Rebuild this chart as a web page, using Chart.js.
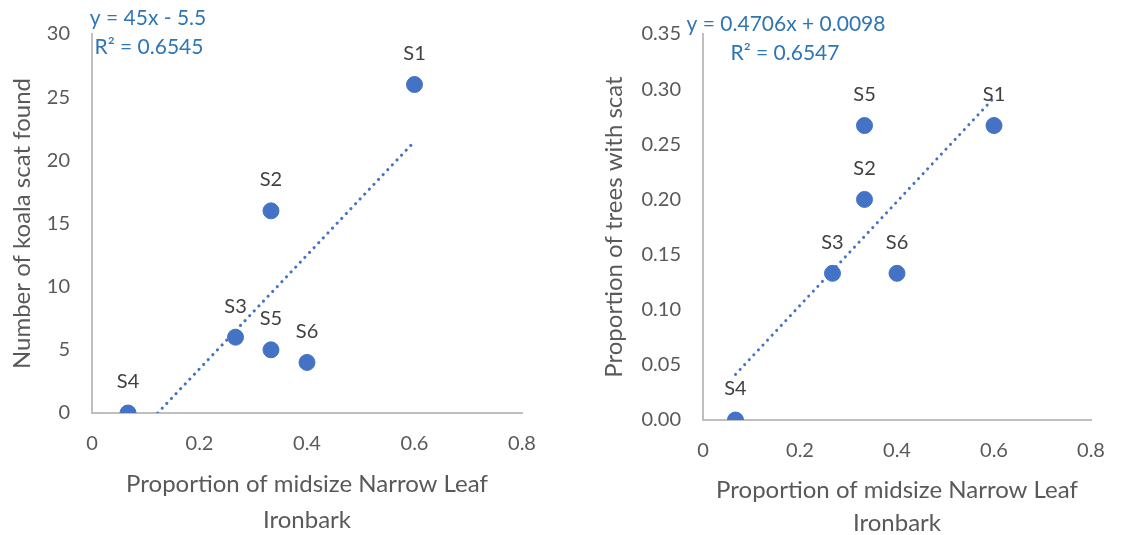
<!DOCTYPE html>
<html>
<head>
<meta charset="utf-8">
<script src="https://cdn.jsdelivr.net/npm/chart.js@4.4.0/dist/chart.umd.min.js"></script>
<style>
  body { margin: 0; background: #fff; }
  canvas { position: absolute; top: 0; }
  #countChart { left: 0; }
  #propChart { left: 570px; }
</style>
</head>
<body>
<canvas id="countChart" width="560" height="535"></canvas>
<canvas id="propChart" width="569" height="535"></canvas>
<script>
// данные по участкам
const sites = ['S1', 'S2', 'S3', 'S4', 'S5', 'S6'];
const ironbark = [0.6, 0.333, 0.267, 0.067, 0.333, 0.4];
const scatCount = [26, 16, 6, 0, 5, 4];
const treesWithScat = [0.267, 0.2, 0.133, 0, 0.267, 0.133];

// линии тренда (как подписано на графике)
const countTrendX = [0.122, 0.6];
const countSlope = 45, countIntercept = -5.5;
const propTrendX = [0.067, 0.6];
const propSlope = 0.4706, propIntercept = 0.0098;

const xTicks = [0, 0.2, 0.4, 0.6, 0.8];
const countTicks = [0, 5, 10, 15, 20, 25, 30];
const propTicks = [0, 0.05, 0.1, 0.15, 0.2, 0.25, 0.3, 0.35];

const BLUE = '#4472C4';
const TEXT = '#595959';
const FONT = 'Lato, "Open Sans", sans-serif';

// подписи точек и уравнение тренда
const labelPlugin = {
    id: 'siteLabels',
    afterDatasetsDraw(chart, args, opts) {
        const ctx = chart.ctx;
        const meta = chart.getDatasetMeta(0);
        ctx.save();
        ctx.font = '20px ' + FONT;
        ctx.fillStyle = '#404040';
        ctx.textAlign = 'center';
        ctx.textBaseline = 'middle';
        meta.data.forEach((pt, i) => {
            ctx.fillText(sites[i], pt.x, pt.y - 31);
        });
        ctx.font = '21px ' + FONT;
        ctx.fillStyle = '#2E75B6';
        opts.lines.forEach(l => ctx.fillText(l.text, l.x, l.y));
        ctx.restore();
    }
};

function makeChart(id, yValues, trendX, slope, intercept, yTicks, yMax, yTitle, decimals, pad, yWidth, xHeight, titlePad, eqLines) {
    new Chart(document.getElementById(id), {
        type: 'scatter',
        data: {
            datasets: [{
                data: ironbark.map((x, i) => ({ x: x, y: yValues[i] })),
                backgroundColor: BLUE,
                borderColor: BLUE,
                pointRadius: 8,
                pointHoverRadius: 8
            }, {
                data: trendX.map(x => ({ x: x, y: slope * x + intercept })),
                showLine: true,
                borderColor: BLUE,
                borderWidth: 3,
                borderDash: [0.1, 6.6],
                borderCapStyle: 'round',
                pointRadius: 0
            }]
        },
        options: {
            responsive: false,
            animation: false,
            layout: { padding: pad },
            plugins: {
                legend: { display: false },
                tooltip: { enabled: false },
                siteLabels: { lines: eqLines }
            },
            scales: {
                x: {
                    type: 'linear',
                    min: 0,
                    max: 0.8,
                    afterBuildTicks: s => { s.ticks = xTicks.map(v => ({ value: v })); },
                    grid: { display: false, drawTicks: false },
                    border: { color: '#BFBFBF', width: 2 },
                    ticks: {
                        padding: 19,
                        color: TEXT,
                        font: { size: 20, family: FONT },
                        callback: v => v === 0 ? '0' : String(Math.round(v * 10) / 10)
                    },
                    title: {
                        display: true,
                        text: ['Proportion of midsize Narrow Leaf', 'Ironbark'],
                        color: TEXT,
                        font: { size: 24, family: FONT, lineHeight: titlePad.lh },
                        padding: { top: 0, bottom: titlePad.bottom }
                    },
                    afterFit: s => { s.height = xHeight; }
                },
                y: {
                    min: 0,
                    max: yMax,
                    afterBuildTicks: s => { s.ticks = yTicks.map(v => ({ value: v })); },
                    grid: { display: false, drawTicks: false },
                    border: { color: '#BFBFBF', width: 2 },
                    ticks: {
                        padding: 22,
                        color: TEXT,
                        font: { size: 20, family: FONT },
                        callback: v => v.toFixed(decimals)
                    },
                    title: {
                        display: true,
                        text: yTitle,
                        color: TEXT,
                        font: { size: 24, family: FONT },
                        padding: 0
                    },
                    afterFit: s => { s.width = yWidth; }
                }
            }
        },
        plugins: [labelPlugin]
    });
}

makeChart('countChart', scatCount, countTrendX, countSlope, countIntercept, countTicks, 30,
    'Number of koala scat found', 0,
    { left: 8, right: 38, top: 27, bottom: 0 }, 84, 122, { lh: 1.48, bottom: -3 },
    [{ text: 'y = 45x - 5.5', x: 148, y: 18 }, { text: 'R² = 0.6545', x: 149, y: 47 }]);

makeChart('propChart', treesWithScat, propTrendX, propSlope, propIntercept, propTicks, 0.35,
    'Proportion of trees with scat', 2,
    { left: 30, right: 48, top: 31, bottom: 0 }, 103, 115, { lh: 1.35, bottom: -4 },
    [{ text: 'y = 0.4706x + 0.0098', x: 216, y: 24 }, { text: 'R² = 0.6547', x: 215, y: 53 }]);
</script>
</body>
</html>
